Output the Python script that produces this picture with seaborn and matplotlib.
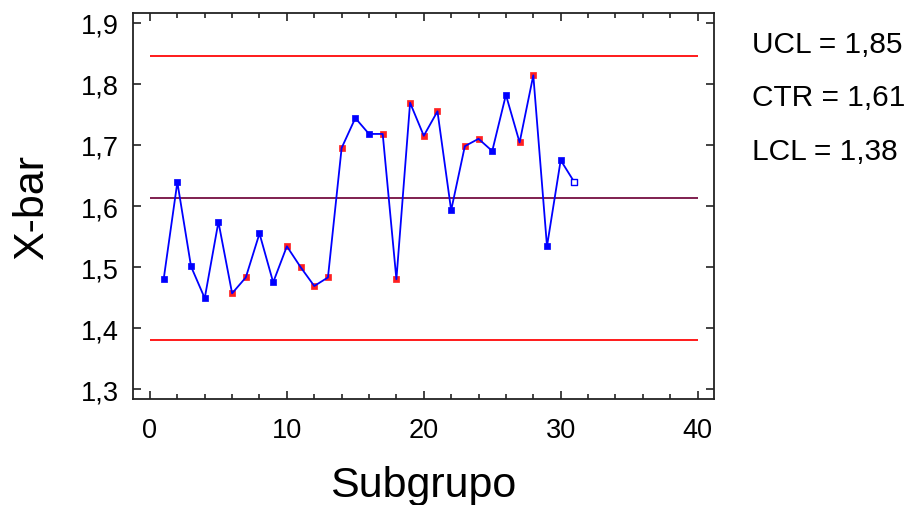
import numpy as np
import pandas as pd
import matplotlib
matplotlib.use('agg')
import matplotlib.pyplot as plt
from matplotlib.ticker import MultipleLocator, FuncFormatter
import seaborn as sns

# data
subgroups = list(range(1, 32))
xbar = [1.480, 1.639, 1.501, 1.449, 1.574, 1.457, 1.483, 1.555, 1.475, 1.534,
        1.500, 1.469, 1.483, 1.695, 1.744, 1.718, 1.718, 1.480, 1.769, 1.715,
        1.755, 1.593, 1.698, 1.710, 1.690, 1.782, 1.704, 1.814, 1.534, 1.675,
        1.639]
# 'n' normal point, 'r' flagged by run rule, 'u' last (open) point
status = ['n', 'n', 'n', 'n', 'n', 'r', 'r', 'n', 'n', 'r',
          'r', 'r', 'r', 'r', 'n', 'n', 'r', 'r', 'r', 'r',
          'r', 'n', 'r', 'r', 'n', 'n', 'r', 'r', 'n', 'n',
          'u']
ucl, ctr, lcl = 1.846, 1.613, 1.380
x_first, x_last = 0, 40

df = pd.DataFrame({"Subgrupo": subgroups, "xbar": xbar, "estado": status})

sns.set_theme(style="white")
plt.rcParams['font.family'] = ['Liberation Sans', 'DejaVu Sans']
plt.rcParams['text.color'] = 'black'
plt.rcParams['axes.labelcolor'] = 'black'
plt.rcParams['xtick.labelcolor'] = 'black'
plt.rcParams['ytick.labelcolor'] = 'black'

fig = plt.figure(figsize=(9.14, 5.06), dpi=100)
ax = fig.add_axes([0.1455, 0.2095, 0.6357, 0.7628])

# control limits
ax.hlines([ucl, lcl], x_first, x_last, color="#ff1a1a", lw=1.4, zorder=1)
ax.hlines(ctr, x_first, x_last, color="#7f1f4f", lw=1.4, zorder=1)

# markers (drawn under the line)
red = df[df.estado == 'r']
blue = df[df.estado == 'n']
last = df[df.estado == 'u']
sns.scatterplot(data=red, x="Subgrupo", y="xbar", marker="s", s=16, color="#ff2020",
                edgecolor="#ff2020", linewidth=0.5, ax=ax, zorder=2, legend=False)
sns.scatterplot(data=blue, x="Subgrupo", y="xbar", marker="s", s=16, color="#0000ff",
                edgecolor="#0000ff", linewidth=0.5, ax=ax, zorder=2, legend=False)
sns.lineplot(data=df, x="Subgrupo", y="xbar", color="#0000ff", lw=1.3, ax=ax, zorder=3)
sns.scatterplot(data=last, x="Subgrupo", y="xbar", marker="s", s=14, color="white",
                edgecolor="#0000ff", linewidth=1.0, ax=ax, zorder=4, legend=False)

ax.set_xlim(-1.24, 41.2)
ax.set_ylim(1.284, 1.916)
ax.xaxis.set_major_locator(MultipleLocator(10))
ax.xaxis.set_minor_locator(MultipleLocator(2))
ax.yaxis.set_major_locator(MultipleLocator(0.1))
ax.yaxis.set_major_formatter(FuncFormatter(lambda v, p: f"{v:.1f}".replace(".", ",")))

ax.tick_params(which="both", direction="in", top=True, right=True, bottom=True, left=True,
               color="#222222", width=1.2)
ax.tick_params(which="major", length=6, labelsize=19.5)
ax.tick_params(axis="x", which="major", pad=13)
ax.tick_params(axis="y", which="major", pad=10)
ax.tick_params(which="minor", length=3.5)
ax.tick_params(axis="y", which="minor", left=False, right=False)
for sp in ax.spines.values():
    sp.set_color("#222222")
    sp.set_linewidth(1.3)

ax.set_xlabel("Subgrupo", fontsize=31, labelpad=16)
ax.set_ylabel("X-bar", fontsize=31, labelpad=21)

# limit labels on the right
fmt = lambda v: f"{v:.2f}".replace(".", ",")
for name, val, ypix in [("UCL", ucl, 53), ("CTR", ctr, 106), ("LCL", lcl, 160)]:
    fig.text(752 / 914, 1 - ypix / 506, f"{name} = {fmt(val)}", fontsize=21.5,
             ha="left", va="baseline")

fig.savefig("out.png", dpi=100)
